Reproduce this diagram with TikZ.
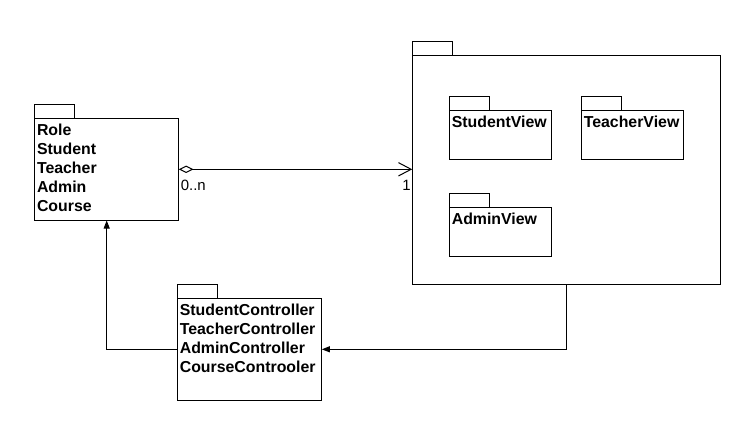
\documentclass[tikz,border=0pt]{standalone}
\usepackage{fontspec}
\setmainfont{Liberation Sans}
\usetikzlibrary{arrows.meta,fit,calc}
\begin{document}
\begin{tikzpicture}[x=0.75pt,y=-0.75pt,line width=0.75pt,
  pkg/.style={draw,inner sep=0pt},
  lbl/.style={font=\bfseries\fontsize{11.9}{14.25}\selectfont,anchor=base west,inner sep=0pt},
  mult/.style={font=\fontsize{11.2}{12}\selectfont,inner sep=0pt},
  tipf/.style={-{Triangle[length=6pt,width=4.5pt]}}]
\useasboundingbox (0,0) rectangle (749,429);
% model package
\node[pkg,fit={(34.5,104.7) (74.3,118.3)}] (modeltab) {};
\node[pkg,fit={(34.5,118.3) (178.3,220)}] (model) {};
\foreach \t [count=\i] in {Role,Student,Teacher,Admin,Course}
  \node[lbl] (m\i) at ($(model.north west)+(2.5,17.4+19*\i-19)$) {\t};
% view package
\node[pkg,fit={(412.7,41.7) (452.7,55.3)}] (viewtab) {};
\node[pkg,fit={(412.7,55.3) (720,284.3)}] (view) {};
\node[pkg,fit={(449.3,96.3) (489.3,110.3)}] (svtab) {};
\node[pkg,fit={(449.3,110.3) (551.3,159)}] (sv) {};
\node[lbl] (svt) at ($(sv.north west)+(2.5,17.4)$) {StudentView};
\node[pkg,fit={(581.3,96.3) (621.3,110.3)}] (tvtab) {};
\node[pkg,fit={(581.3,110.3) (683.3,159)}] (tv) {};
\node[lbl] (tvt) at ($(tv.north west)+(2.5,17.4)$) {TeacherView};
\node[pkg,fit={(449.3,193.3) (489.3,207.3)}] (avtab) {};
\node[pkg,fit={(449.3,207.3) (551.3,256.3)}] (av) {};
\node[lbl] (avt) at ($(av.north west)+(2.5,17.4)$) {AdminView};
% controller package
\node[pkg,fit={(177.3,284.3) (217.3,298.3)}] (ctrltab) {};
\node[pkg,fit={(177.3,298.3) (321.3,400)}] (ctrl) {};
\foreach \t [count=\i] in {StudentController,TeacherController,AdminController,CourseControoler}
  \node[lbl] (c\i) at ($(ctrl.north west)+(2.5,17.4+19*\i-19)$) {\t};
% connectors
\coordinate (aggy) at (0,169.3);
\draw[{Diamond[open,length=11pt,width=5.5pt]}-{Straight Barb[length=9.5pt,width=10pt]}]
  (model.east |- aggy) -- (view.west |- aggy);
\node[mult,anchor=base west] (lm) at ($(model.east |- aggy)+(1.5,21.4)$) {0..n};
\node[mult,anchor=base east] (lv) at ($(view.west |- aggy)+(-1,21.4)$) {1};
\coordinate (cy) at (0,349.3);
\coordinate (vx) at (566.7,0);
\coordinate (mx) at (106.7,0);
\draw[tipf] (view.south -| vx) |- (ctrl.east |- cy);
\draw[tipf] (ctrl.west |- cy) -| (model.south -| mx);
\end{tikzpicture}
\end{document}
